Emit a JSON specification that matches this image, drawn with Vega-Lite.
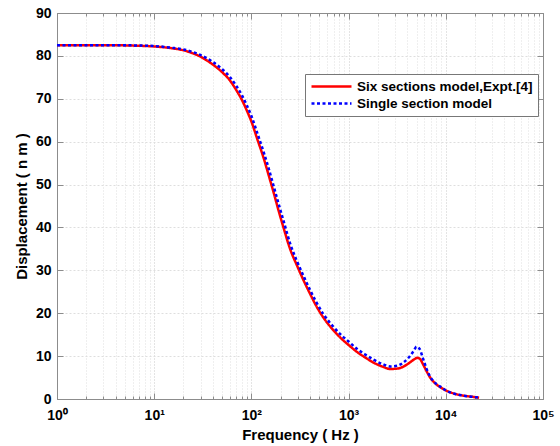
{
  "$schema": "https://vega.github.io/schema/vega-lite/v6.json",
  "width": 486,
  "height": 386,
  "autosize": "none",
  "padding": {"left": 57, "top": 13, "right": 17, "bottom": 47},
  "background": "white",
  "config": {
    "view": {"stroke": "#8c8c8c", "strokeWidth": 1},
    "font": "Liberation Sans"
  },
  "datasets": {
    "red": [
      {"f": 1, "d": 82.5}, {"f": 3, "d": 82.5}, {"f": 6, "d": 82.4}, {"f": 10, "d": 82.2},
      {"f": 15, "d": 81.8}, {"f": 20, "d": 81.3}, {"f": 25, "d": 80.6}, {"f": 30, "d": 79.8},
      {"f": 40, "d": 78.0}, {"f": 50, "d": 76.2}, {"f": 60, "d": 74.3}, {"f": 70, "d": 72.0},
      {"f": 80, "d": 69.7}, {"f": 90, "d": 67.2}, {"f": 100, "d": 64.7}, {"f": 115, "d": 60.6},
      {"f": 134, "d": 56.1}, {"f": 150, "d": 52.3}, {"f": 170, "d": 48.0}, {"f": 190, "d": 44.0},
      {"f": 215, "d": 39.8}, {"f": 250, "d": 35.0}, {"f": 296, "d": 31.0}, {"f": 350, "d": 27.3},
      {"f": 400, "d": 24.6}, {"f": 457, "d": 22.0}, {"f": 550, "d": 19.0}, {"f": 700, "d": 16.0},
      {"f": 850, "d": 14.0}, {"f": 1000, "d": 12.6}, {"f": 1250, "d": 10.8}, {"f": 1500, "d": 9.6},
      {"f": 1800, "d": 8.5}, {"f": 2200, "d": 7.6}, {"f": 2700, "d": 7.0}, {"f": 3200, "d": 7.1},
      {"f": 3700, "d": 7.6}, {"f": 4200, "d": 8.4}, {"f": 4700, "d": 9.2}, {"f": 5100, "d": 9.6},
      {"f": 5400, "d": 9.4}, {"f": 5800, "d": 8.2}, {"f": 6300, "d": 6.6}, {"f": 7000, "d": 4.8},
      {"f": 8000, "d": 3.4}, {"f": 9000, "d": 2.6}, {"f": 10000, "d": 2.0}, {"f": 12000, "d": 1.3},
      {"f": 15000, "d": 0.8}, {"f": 19000, "d": 0.5}, {"f": 22000, "d": 0.3}
    ],
    "blue": [
      {"f": 1, "d": 82.5}, {"f": 3, "d": 82.5}, {"f": 6, "d": 82.45}, {"f": 10, "d": 82.3},
      {"f": 15, "d": 81.9}, {"f": 20, "d": 81.5}, {"f": 25, "d": 80.9}, {"f": 30, "d": 80.2},
      {"f": 40, "d": 78.6}, {"f": 50, "d": 76.9}, {"f": 60, "d": 75.1}, {"f": 70, "d": 73.0},
      {"f": 80, "d": 70.8}, {"f": 90, "d": 68.4}, {"f": 100, "d": 66.0}, {"f": 115, "d": 62.0},
      {"f": 134, "d": 57.5}, {"f": 150, "d": 53.9}, {"f": 170, "d": 49.5}, {"f": 190, "d": 45.6},
      {"f": 215, "d": 41.4}, {"f": 250, "d": 36.3}, {"f": 296, "d": 32.0}, {"f": 350, "d": 28.3},
      {"f": 400, "d": 25.5}, {"f": 457, "d": 22.9}, {"f": 550, "d": 19.8}, {"f": 700, "d": 16.8},
      {"f": 850, "d": 14.8}, {"f": 1000, "d": 13.4}, {"f": 1250, "d": 11.5}, {"f": 1500, "d": 10.3},
      {"f": 1800, "d": 9.2}, {"f": 2200, "d": 8.2}, {"f": 2700, "d": 7.6}, {"f": 3200, "d": 7.8},
      {"f": 3700, "d": 8.6}, {"f": 4200, "d": 9.8}, {"f": 4700, "d": 11.3}, {"f": 5000, "d": 12.2},
      {"f": 5400, "d": 11.6}, {"f": 5800, "d": 9.6}, {"f": 6300, "d": 7.2}, {"f": 7000, "d": 5.0},
      {"f": 8000, "d": 3.5}, {"f": 9000, "d": 2.7}, {"f": 10000, "d": 2.0}, {"f": 12000, "d": 1.3},
      {"f": 15000, "d": 0.8}, {"f": 19000, "d": 0.5}, {"f": 22000, "d": 0.3}
    ]
  },
  "layer": [
    {
      "data": {"name": "red"},
      "transform": [{"calculate": "'Six sections model,Expt.[4]'", "as": "s"}],
      "mark": {"type": "line", "strokeWidth": 2.5, "interpolate": "monotone"},
      "encoding": {
        "x": {
          "field": "f", "type": "quantitative",
          "scale": {"type": "log", "domain": [1, 100000], "nice": false},
          "axis": {
            "orient": "bottom",
            "title": "Frequency ( Hz )",
            "titleFont": "Liberation Sans", "titleFontSize": 15, "titleFontWeight": "bold", "titleColor": "black", "titlePadding": 2,
            "labelFont": "Liberation Sans", "labelFontSize": 14, "labelFontWeight": "bold", "labelColor": "black", "labelPadding": 15,
            "values": [1,2,3,4,5,6,7,8,9,10,20,30,40,50,60,70,80,90,100,200,300,400,500,600,700,800,900,1000,2000,3000,4000,5000,6000,7000,8000,9000,10000,20000,30000,40000,50000,60000,70000,80000,90000,100000],
            "labelExpr": "datum.value == 1 ? '10⁰' : datum.value == 10 ? '10¹' : datum.value == 100 ? '10²' : datum.value == 1000 ? '10³' : datum.value == 10000 ? '10⁴' : datum.value == 100000 ? '10⁵' : ''",
            "labelFlush": false,
            "labelOverlap": false,
            "domainColor": "#8c8c8c",
            "tickColor": "#8c8c8c",
            "tickSize": {"condition": {"test": "indexof([1,10,100,1000,10000,100000], datum.value) >= 0", "value": -6}, "value": -3},
            "grid": true,
            "gridColor": {"condition": {"test": "indexof([1,10,100,1000,10000,100000], datum.value) >= 0", "value": "#c8c8c8"}, "value": "#dedede"},
            "gridDash": [1, 2],
            "gridWidth": 1
          }
        },
        "y": {
          "field": "d", "type": "quantitative",
          "scale": {"domain": [0, 90], "nice": false},
          "axis": {
            "orient": "left",
            "title": "Displacement  ( n m )",
            "titleFont": "Liberation Sans", "titleFontSize": 15, "titleFontWeight": "bold", "titleColor": "black", "titlePadding": 6,
            "labelFont": "Liberation Sans", "labelFontSize": 14, "labelFontWeight": "bold", "labelColor": "black", "labelPadding": 12,
            "values": [0,10,20,30,40,50,60,70,80,90],
            "domainColor": "#8c8c8c",
            "tickColor": "#8c8c8c",
            "tickSize": -6,
            "grid": true,
            "gridColor": "#dedede",
            "gridDash": [2, 2]
          }
        },
        "color": {
          "field": "s", "type": "nominal",
          "scale": {"domain": ["Six sections model,Expt.[4]", "Single section model"], "range": ["#ff0000", "#0000ff"]},
          "legend": {
            "title": null,
            "orient": "none",
            "legendX": 248,
            "legendY": 61,
            "fillColor": "white",
            "strokeColor": "#777777",
            "padding": 5,
            "symbolType": "stroke",
            "symbolSize": 1600,
            "symbolStrokeWidth": 2.5,
            "clipHeight": 15,
            "labelFont": "Liberation Sans",
            "labelFontSize": 13.5,
            "labelFontWeight": "bold",
            "labelColor": "black",
            "labelLimit": 300,
            "rowPadding": 2,
            "zindex": 10
          }
        },
        "strokeDash": {
          "field": "s", "type": "nominal",
          "scale": {"domain": ["Six sections model,Expt.[4]", "Single section model"], "range": [[1, 0], [3, 2.5]]},
          "legend": null
        }
      }
    },
    {
      "data": {"name": "blue"},
      "transform": [{"calculate": "'Single section model'", "as": "s"}],
      "mark": {"type": "line", "strokeWidth": 2.5, "interpolate": "monotone"},
      "encoding": {
        "x": {
          "field": "f", "type": "quantitative",
          "axis": {
            "orient": "top", "title": null, "labels": false, "grid": false,
            "values": [1,2,3,4,5,6,7,8,9,10,20,30,40,50,60,70,80,90,100,200,300,400,500,600,700,800,900,1000,2000,3000,4000,5000,6000,7000,8000,9000,10000,20000,30000,40000,50000,60000,70000,80000,90000,100000],
            "domainColor": "#8c8c8c",
            "tickColor": "#8c8c8c",
            "tickSize": {"condition": {"test": "indexof([1,10,100,1000,10000,100000], datum.value) >= 0", "value": -6}, "value": -3}
          }
        },
        "y": {
          "field": "d", "type": "quantitative",
          "axis": {
            "orient": "right", "title": null, "labels": false, "grid": false,
            "values": [0,10,20,30,40,50,60,70,80,90],
            "domainColor": "#8c8c8c",
            "tickColor": "#8c8c8c",
            "tickSize": -6
          }
        },
        "color": {"field": "s", "type": "nominal"},
        "strokeDash": {"field": "s", "type": "nominal", "legend": null}
      }
    }
  ],
  "resolve": {"axis": {"x": "independent", "y": "independent"}}
}
